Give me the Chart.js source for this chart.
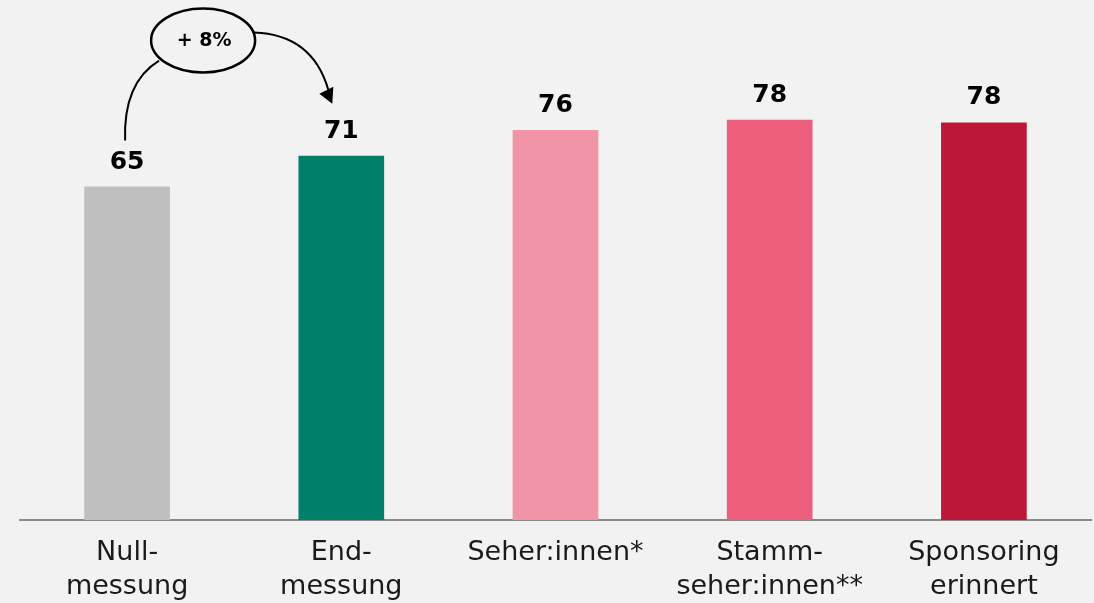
<!DOCTYPE html>
<html>
<head>
<meta charset="utf-8">
<script src="https://cdn.jsdelivr.net/npm/chart.js@4/dist/chart.umd.min.js"></script>
<style>
  html, body { margin: 0; padding: 0; background: #f2f2f2; }
  #wrap { width: 1094px; height: 603px; }
</style>
</head>
<body>
<div id="wrap"><canvas id="chart" width="1094" height="603"></canvas></div>
<script>
// --- DATA ---
const categories = [
  ['Null-', 'messung'],
  ['End-', 'messung'],
  ['Seher:innen*'],
  ['Stamm-', 'seher:innen**'],
  ['Sponsoring', 'erinnert']
];
const values = [65, 71, 76, 78, 77.5];
const barColors = ['#bfbfbf', '#00806a', '#f194a8', '#ec5e7c', '#bc1739'];
const changeLabel = '+ 8%';

// value labels above the bars
const valueLabels = {
  id: 'valueLabels',
  afterDatasetsDraw(chart) {
    const ctx = chart.ctx;
    const meta = chart.getDatasetMeta(0);
    ctx.save();
    ctx.font = 'bold 25px "DejaVu Sans"';
    ctx.fillStyle = '#000';
    ctx.textAlign = 'center';
    ctx.textBaseline = 'alphabetic';
    meta.data.forEach((bar, i) => {
      ctx.fillText(String(Math.round(values[i])), bar.x, bar.y - 18);
    });
    ctx.restore();
  }
};

// "+ 8%" bubble with the curved arrow between first two bars
const changeArrow = {
  id: 'changeArrow',
  afterDraw(chart) {
    const ctx = chart.ctx;
    const meta = chart.getDatasetMeta(0);
    const b0 = meta.data[0], b1 = meta.data[1];
    const cx = b0.x + 76, cy = b0.y - 146;
    const rx = 52, ry = 32;

    ctx.save();
    ctx.strokeStyle = '#000';
    ctx.fillStyle = '#000';
    ctx.lineWidth = 2;

    // left stem
    const sx = b0.x - 2, sy = b0.y - 46;
    ctx.beginPath();
    ctx.moveTo(sx, sy);
    ctx.quadraticCurveTo(sx - 2, sy - 58, cx - 44, cy + 20);
    ctx.stroke();

    // right arrow
    const tx = b1.x - 9, ty = b1.y - 52;
    const ex = cx + 51, ey = cy - 8;
    ctx.beginPath();
    ctx.moveTo(ex, ey);
    ctx.quadraticCurveTo(tx - 20, ey + 2, tx - 4, ty - 14);
    ctx.stroke();
    ctx.beginPath();
    ctx.moveTo(tx, ty);
    ctx.lineTo(tx - 13, ty - 10);
    ctx.lineTo(tx + 1, ty - 17);
    ctx.closePath();
    ctx.fill();

    // bubble
    ctx.lineWidth = 2.5;
    ctx.beginPath();
    ctx.ellipse(cx, cy, rx, ry, 0, 0, Math.PI * 2);
    ctx.fillStyle = '#f2f2f2';
    ctx.fill();
    ctx.stroke();

    ctx.fillStyle = '#000';
    ctx.font = 'bold 19px "DejaVu Sans"';
    ctx.textAlign = 'center';
    ctx.textBaseline = 'middle';
    ctx.fillText(changeLabel, cx + 1, cy + 1);
    ctx.restore();
  }
};

new Chart(document.getElementById('chart'), {
  type: 'bar',
  data: {
    labels: categories,
    datasets: [{
      data: values,
      backgroundColor: barColors,
      borderWidth: 0,
      barPercentage: 0.4,
      categoryPercentage: 1
    }]
  },
  options: {
    responsive: false,
    animation: false,
    layout: { padding: { left: 20, right: 3, top: 7, bottom: 0 } },
    plugins: { legend: { display: false }, tooltip: { enabled: false } },
    scales: {
      x: {
        grid: { display: false, drawTicks: false },
        border: { display: true, color: '#8a8a8a', width: 2 },
        ticks: {
          color: '#1a1a1a',
          padding: 16,
          font: { family: '"DejaVu Sans"', size: 27, lineHeight: 1.26 }
        },
        afterFit(scale) { scale.height = 83; }
      },
      y: {
        display: false,
        min: 0,
        max: 100
      }
    }
  },
  plugins: [valueLabels, changeArrow]
});
</script>
</body>
</html>
